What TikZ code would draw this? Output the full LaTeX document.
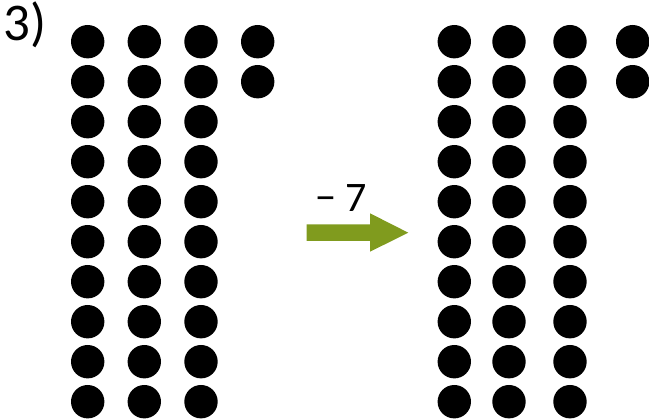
\documentclass[tikz,border=0pt]{standalone}
\usepackage{fontspec}
\setmainfont{Carlito}
\definecolor{arrowgreen}{RGB}{128,155,30}
\begin{document}
\begin{tikzpicture}[x=1pt,y=-1pt,
  dot/.style={circle,fill=black,inner sep=0pt,minimum size=33.4pt},
  lbl/.style={inner sep=0pt,anchor=base}]
\useasboundingbox (0,0) rectangle (649,419);
% left group
\foreach \c/\x in {1/87.7,2/144.3,3/201} {
  \foreach \r in {0,...,9} {
    \node[dot] (L\c-\r) at (\x,41.7+40*\r) {};
  }
}
\node[dot] (L4-0) at (257.7,41.7) {};
\node[dot] (L4-1) at (257.7,81.7) {};
% right group
\foreach \c/\x in {1/454.3,2/509,3/570} {
  \foreach \r in {0,...,9} {
    \node[dot] (R\c-\r) at (\x,41.7+40*\r) {};
  }
}
\node[dot] (R4-0) at (632.7,41.7) {};
\node[dot] (R4-1) at (632.7,81.7) {};
% label
\node[lbl,anchor=base west,font=\fontsize{53}{56}\selectfont] (num) at (3.5,40.5) {3)};
% arrow
\fill[arrowgreen] (306.7,224.3) -- (370,224.3) -- (370,213.3) -- (408.3,232.7)
  -- (370,251.7) -- (370,241) -- (306.7,241) -- cycle;
\node[lbl,font=\fontsize{42}{46}\selectfont] (minus) at (341,212) {− 7};
\end{tikzpicture}
\end{document}
